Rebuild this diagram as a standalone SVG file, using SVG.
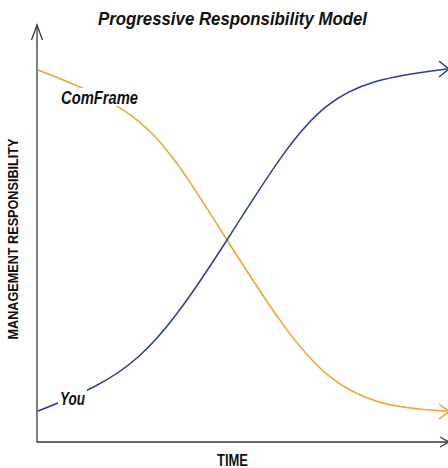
<svg xmlns="http://www.w3.org/2000/svg" width="448" height="468" viewBox="0 0 448 468">
<style>
.lbl{font-family:"Liberation Sans",Arial,sans-serif;font-weight:bold;fill:#111}
.it{font-style:italic}
.axis{stroke:#3a3a3a;stroke-width:1.3;fill:none}
.blue{stroke:#2b3f93;stroke-width:1.5;fill:none}
.orange{stroke:#f7a128;stroke-width:1.5;fill:none}
</style>
<rect width="448" height="468" fill="#ffffff"/>
<g id="title">
<text class="lbl it" x="98" y="25" font-size="19" textLength="269" lengthAdjust="spacingAndGlyphs">Progressive Responsibility Model</text>
</g>
<g id="axes">
<path class="axis" d="M37,25 V442 H448"/>
<path class="axis" d="M31.5,40 L37,25 L42.5,40"/>
<path class="axis" d="M440,437 L449,442 L440,447"/>
</g>
<g id="connectors">
<path id="comframe-curve" class="orange" d="M38,70 C148,112 157,129 227,240 C317,382 338,405.5 447,411"/>
<path class="orange" d="M439,404 L449,411.5 L439,419"/>
<path id="you-curve" class="blue" d="M38,411 C130,375 150,360 227,240 C317,98 328,83.4 447,69"/>
<path class="blue" d="M439,61 L449,69 L439,77"/>
</g>
<g id="comframe-label">
<rect x="59" y="88" width="82" height="18" fill="#ffffff"/>
<text class="lbl it" x="61" y="103.5" font-size="18" textLength="77" lengthAdjust="spacingAndGlyphs">ComFrame</text>
</g>
<g id="you-label">
<rect x="58" y="389" width="29" height="18" fill="#ffffff"/>
<text class="lbl it" x="60" y="404.5" font-size="18" textLength="25" lengthAdjust="spacingAndGlyphs">You</text>
</g>
<g id="x-label">
<text class="lbl" x="232.5" y="466" font-size="16" text-anchor="middle" textLength="31" lengthAdjust="spacingAndGlyphs">TIME</text>
</g>
<g id="y-label">
<text class="lbl" transform="translate(17.5,239) rotate(-90)" x="0" y="0" font-size="15.5" text-anchor="middle" textLength="201" lengthAdjust="spacingAndGlyphs">MANAGEMENT RESPONSIBILITY</text>
</g>
</svg>
